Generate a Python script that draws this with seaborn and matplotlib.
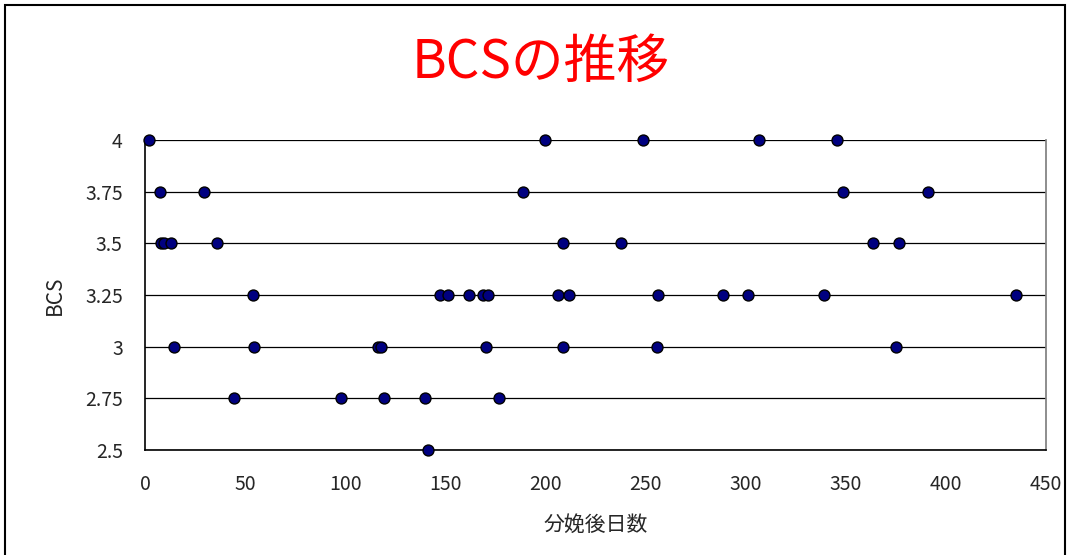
import numpy as np
import pandas as pd
import matplotlib
matplotlib.use("Agg")
import matplotlib.pyplot as plt
import seaborn as sns
from matplotlib.patches import Rectangle

# days after calving, grouped by BCS score
days_400 = [2, 200, 248.5, 306.5, 345.5]
days_375 = [7.6, 29.3, 189, 348.8, 391]
days_350 = [8, 9.5, 13, 36, 208.8, 237.8, 363.8, 376.8]
days_325 = [53.9, 147.5, 151.5, 161.7, 169, 171.3, 206.4, 211.6,
            256.4, 288.5, 301.3, 339.3, 435]
days_300 = [14.3, 54.6, 116.5, 118, 170.2, 208.8, 255.6, 375]
days_275 = [44.5, 97.7, 119.4, 139.9, 176.7]
days_250 = [141.2]

bcs_levels = [4.0, 3.75, 3.5, 3.25, 3.0, 2.75, 2.5]
ytick_labels = ["4", "3.75", "3.5", "3.25", "3", "2.75", "2.5"]
xticks = [0, 50, 100, 150, 200, 250, 300, 350, 400, 450]

groups = [days_400, days_375, days_350, days_325, days_300, days_275, days_250]
df = pd.DataFrame({
    "days": [d for g in groups for d in g],
    "bcs": [lvl for g, lvl in zip(groups, bcs_levels) for _ in g],
})

sns.set_theme(style="white")
plt.rcParams["font.family"] = ["Noto Sans CJK JP", "DejaVu Sans"]

fig = plt.figure(figsize=(10.68, 5.55), dpi=100)
ax = fig.add_axes([0.1358, 0.1892, 0.8436, 0.5586])

# horizontal gridlines at each BCS level
for lvl in bcs_levels:
    ax.axhline(lvl, color="black", lw=0.9, zorder=1)

sns.scatterplot(data=df, x="days", y="bcs", ax=ax, s=62,
                color="#000080", edgecolor="black", linewidth=1.0,
                zorder=3, clip_on=False, legend=False)

ax.set_xlim(0, 450)
ax.set_ylim(2.5, 4.0)
ax.set_xticks(xticks)
ax.set_xticklabels([str(x) for x in xticks], fontsize=14)
ax.set_yticks(bcs_levels)
ax.set_yticklabels(ytick_labels, fontsize=14)
ax.tick_params(axis="both", direction="in", length=5, width=1,
               color="black")
ax.tick_params(axis="x", pad=17)
ax.tick_params(axis="y", pad=16)

for side in ["left", "bottom"]:
    ax.spines[side].set_color("black")
    ax.spines[side].set_linewidth(1.2)
ax.spines["right"].set_color("#808080")
ax.spines["top"].set_visible(False)

ax.set_xlabel("分娩後日数", fontsize=15, labelpad=14)
ax.set_ylabel("BCS", fontsize=15, labelpad=14)

fig.text(0.506, 0.888, "BCSの推移", color="red", fontsize=38,
         ha="center", va="center")

# outer chart-area border
fig.patches.append(Rectangle((0.005, -0.05), 0.992, 1.041,
                             transform=fig.transFigure, fill=False,
                             edgecolor="black", lw=1.5))

fig.savefig("out.png", dpi=100)
